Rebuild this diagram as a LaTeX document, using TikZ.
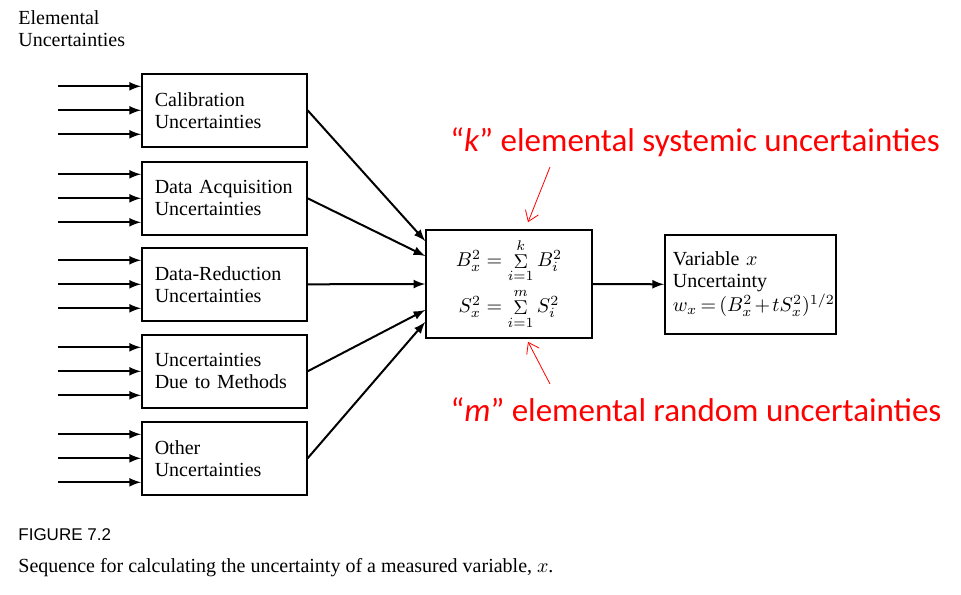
\documentclass[tikz,border=0pt]{standalone}
\usepackage{fontspec}
\setmainfont{Liberation Serif}
\setsansfont{Liberation Sans}
\newfontfamily\calibri{Carlito}
\usetikzlibrary{arrows.meta,positioning}

\newcommand{\smallsum}{\mathop{\Sigma}\limits}

\begin{document}
\begin{tikzpicture}[
    x=0.5pt, y=-0.5pt,
    every node/.style={font=\fontsize{10}{11}\selectfont},
    block/.style={rectangle, draw, line width=0.8pt, anchor=north west, text width=69.5pt, inner xsep=6.5pt, align=left, minimum width=82.5pt, minimum height=36.5pt},
    line/.style={draw, -latex, line width=1pt},
    note/.style={font=\calibri\fontsize{16.5}{19}\selectfont, text=red, inner sep=0pt},
    pointer/.style={draw=red, thin, -{Straight Barb[length=5pt,width=7pt]}}
]
\useasboundingbox (0,0) rectangle (961,594);

\node [anchor=west, inner sep=0pt, align=left] (title) at (18,29) {Elemental\\Uncertainties};

\node [block] (cal) at (141,73) {Calibration\\Uncertainties};
\node [block] (acq) at (141,161) {Data Acquisition\\Uncertainties};
\node [block] (red) at (141,247) {Data-Reduction\\Uncertainties};
\node [block] (meth) at (141,334) {Uncertainties\\Due to Methods};
\node [block] (other) at (141,421) {Other\\Uncertainties};

\node [rectangle, draw, line width=0.8pt, minimum width=83pt, minimum height=54pt, align=center] (sum) at (509,284)
    {$B_x^2 = \smallsum_{i=1}^{k} B_i^2$ \\[2pt] $S_x^2 = \smallsum_{i=1}^{m} S_i^2$};
\node [block, text width=77.5pt, inner xsep=4pt, minimum width=85.5pt, minimum height=49.5pt] (result) at (664,234)
    {Variable $x$\\Uncertainty\\\mbox{\thickmuskip=3mu\medmuskip=2mu$w_x = (B_x^2 + tS_x^2)^{1/2}$}};

% elemental inputs
\foreach \b in {cal,acq,red,meth,other}
  \foreach \dy in {12pt,0pt,-12pt}
    \path [line] ([xshift=-41.5pt,yshift=\dy]\b.west) -- ([yshift=\dy]\b.west);

\path [line] (cal.east) -- ([yshift=21.5pt]sum.west);
\path [line] (acq.east) -- ([yshift=14pt]sum.west);
\path [line] (red.east) -- (sum.west);
\path [line] (meth.east) -- ([yshift=-13pt]sum.west);
\path [line] (other.east) -- ([yshift=-19pt]sum.west);
\path [line] (sum.east) -- (result.west);

% red notes
\node [note] (ktext) at (695,142) {“\textit{k}” elemental systemic uncertainties};
\node [note] (mtext) at (696,410) {“\textit{m}” elemental random uncertainties};
\coordinate (kfrom) at (550,167);
\coordinate (mfrom) at (550,384);
\path [pointer] (kfrom) -- ([xshift=9.5pt,yshift=3.5pt]sum.north);
\path [pointer] (mfrom) -- ([xshift=9.5pt,yshift=-1.5pt]sum.south);

\node [anchor=west, inner sep=0pt, font=\sffamily\fontsize{8.5}{10}\selectfont] (fig) at (18,535) {FIGURE 7.2};
\node [anchor=west, inner sep=0pt] (caption) at (18,568) {Sequence for calculating the uncertainty of a measured variable, $x$.};

\end{tikzpicture}
\end{document}
